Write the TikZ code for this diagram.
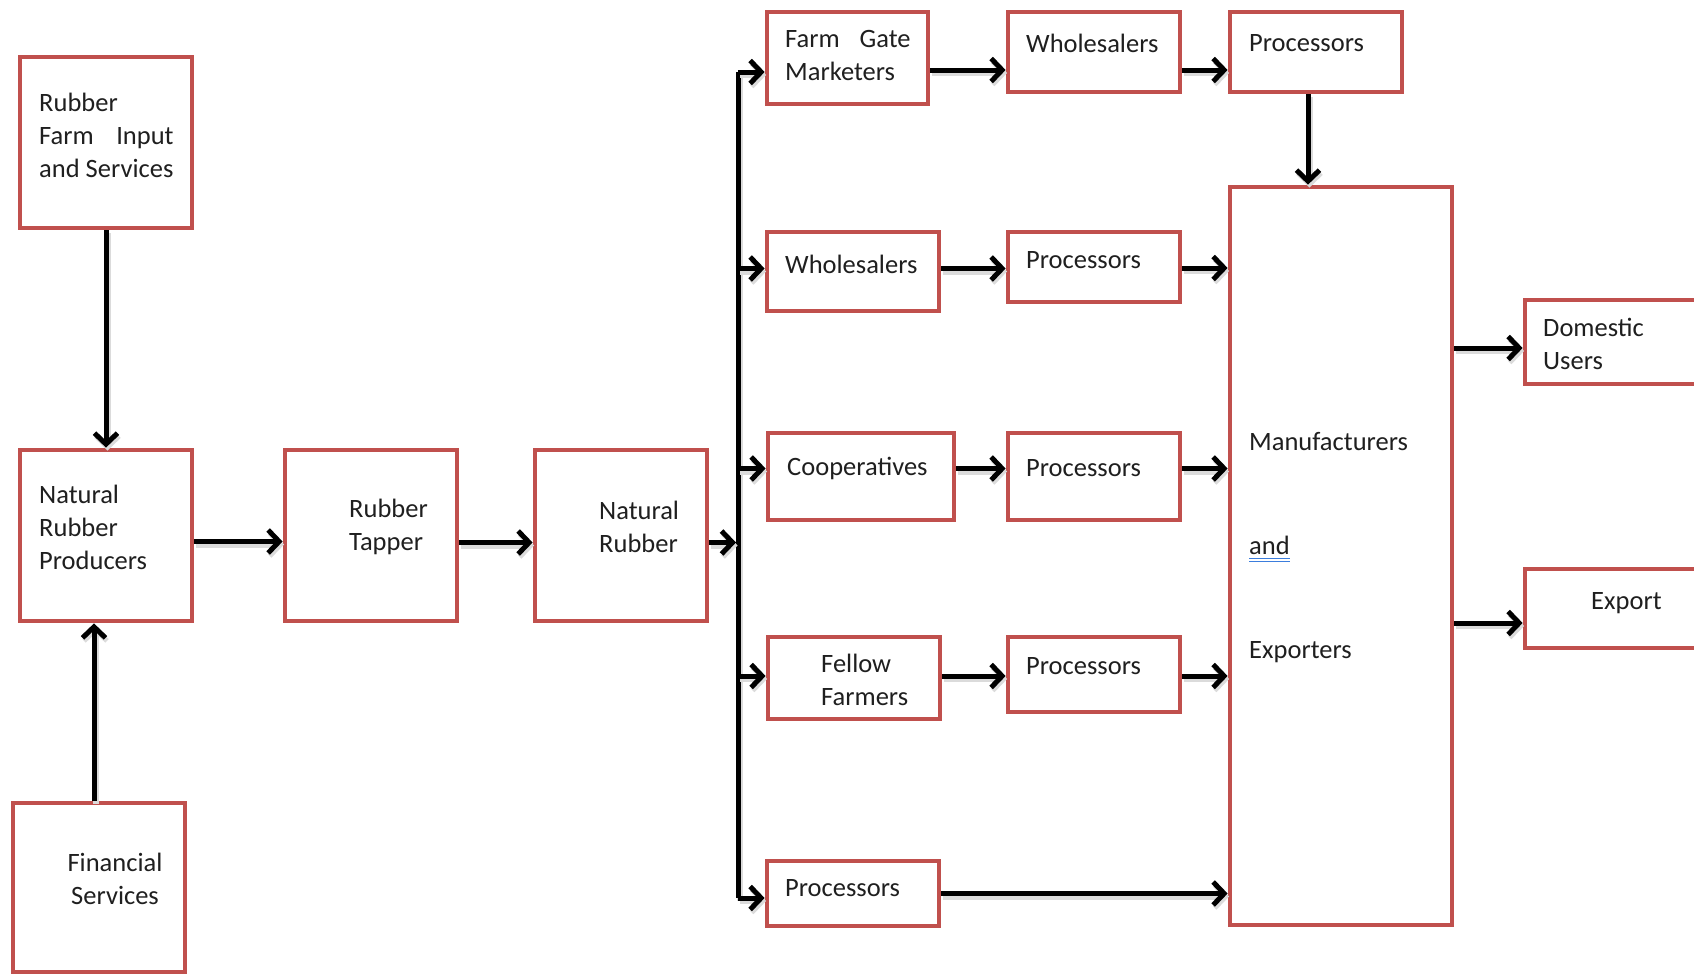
\documentclass[tikz,border=0pt]{standalone}
\usepackage{fontspec}
\setmainfont{Carlito}
\usetikzlibrary{arrows.meta}
\definecolor{boxred}{HTML}{C0504D}
\definecolor{ulblue}{HTML}{3B7DDD}
% word with a blue double underline
\newcommand\blueul[1]{\setbox0=\hbox{#1}%
  \rlap{\color{ulblue}\raisebox{-4pt}{\rule{\wd0}{1.2pt}}}%
  \rlap{\color{ulblue}\raisebox{-7.5pt}{\rule{\wd0}{1.2pt}}}%
  \box0}
\begin{document}
\begin{tikzpicture}[x=1pt,y=-1pt,
  box/.style={draw=boxred, line width=4.8pt, fill=white, inner sep=0pt,
              anchor=north west, xshift=-2.4pt, yshift=2.4pt},
  txt/.style={inner sep=0pt, align=left, anchor=west, text=black!88,
              font=\fontsize{26.5}{33}\selectfont},
  arr/.style={draw=black, line width=5pt,
              -{Straight Barb[length=11pt,width=23pt,line width=5pt]},
              preaction={draw=black!14, line width=6pt,
                         transform canvas={shift={(1.5pt,-3pt)}}}},
  bus/.style={draw=black, line width=5pt,
              preaction={draw=black!14, line width=6pt,
                         transform canvas={shift={(1.5pt,-3pt)}}}}]
\clip (0,0) rectangle (1694,977);
\fill[white] (0,0) rectangle (1694,977);

% ---- distribution bus from Natural Rubber ----
\coordinate (bustop) at (738,72);
\coordinate (busbot) at (738,898);
\draw[bus] (bustop) -- (busbot);

% ---- boxes (top-left corner of the border line, size) ----
\node[box, minimum width=172pt, minimum height=171pt] (A)  at (20,57)   {};
\node[box, minimum width=172pt, minimum height=171pt] (B)  at (20,450)  {};
\node[box, minimum width=172pt, minimum height=171pt] (C)  at (285,450) {};
\node[box, minimum width=172pt, minimum height=171pt] (D)  at (535,450) {};
\node[box, minimum width=172pt, minimum height=169pt] (E)  at (13,803)  {};

\node[box, minimum width=161pt, minimum height=92pt] (FGM) at (767,12)  {};
\node[box, minimum width=172pt, minimum height=80pt] (W1)  at (1008,12) {};
\node[box, minimum width=172pt, minimum height=80pt] (P1)  at (1230,12) {};

\node[box, minimum width=172pt, minimum height=79pt] (W2)  at (767,232)  {};
\node[box, minimum width=172pt, minimum height=70pt] (P2)  at (1008,232) {};

\node[box, minimum width=186pt, minimum height=87pt] (CO)  at (768,433)  {};
\node[box, minimum width=172pt, minimum height=87pt] (P3)  at (1008,433) {};

\node[box, minimum width=172pt, minimum height=82pt] (FF)  at (768,637)  {};
\node[box, minimum width=172pt, minimum height=75pt] (P4)  at (1008,637) {};

\node[box, minimum width=172pt, minimum height=65pt] (P5)  at (767,861)  {};

\node[box, minimum width=222pt, minimum height=738pt] (ME) at (1230,187) {};
\node[box, minimum width=200pt, minimum height=84pt]  (DU) at (1525,300) {};
\node[box, minimum width=200pt, minimum height=79pt]  (EX) at (1525,569) {};

% ---- texts ----
\node[txt] (tA) at (39,135) {Rubber\\Farm\hspace{0.85em}Input\\and Services};
\node[txt] (tB) at (39,527) {Natural\\Rubber\\Producers};
\node[txt] (tC) at (349,527) {Rubber\\Tapper};
\node[txt] (tD) at (599,527) {Natural\\Rubber};
\node[txt, align=center, anchor=center] (tE) at (115,879) {Financial\\Services};

\node[txt] (tFGM) at (785,55) {Farm\hspace{0.75em}Gate\\Marketers};
\node[txt] (tW1) at (1026,43) {Wholesalers};
\node[txt] (tP1) at (1249,43) {Processors};
\node[txt] (tW2) at (785,264) {Wholesalers};
\node[txt] (tP2) at (1026,260) {Processors};
\node[txt] (tCO) at (787,468) {Cooperatives};
\node[txt] (tP3) at (1026,468) {Processors};
\node[txt] (tFF) at (821,680) {Fellow\\Farmers};
\node[txt] (tP4) at (1026,666) {Processors};
\node[txt] (tP5) at (785,888) {Processors};
\node[txt] (tME) at (1249,548) {Manufacturers\\[71pt]\blueul{and}\\[71pt]Exporters};
\node[txt] (tDU) at (1543,344) {Domestic\\Users};
\node[txt] (tEX) at (1591,603) {Export};

% ---- connectors ----
\draw[arr] (A.south) -- (B.north);
\draw[arr] ([xshift=-5pt]E.north) -- ([xshift=-5pt]E.north |- B.south);
\draw[arr] ([yshift=-6pt]B.east) -- ([yshift=-6pt]B.east -| C.west);
\draw[arr] ([yshift=-7pt]C.east) -- ([yshift=-7pt]C.east -| D.west);
\draw[arr] ([yshift=-7pt]D.east) -- ([yshift=-7pt,xshift=-2pt]D.east -| bustop);

\draw[arr] (bustop) -- (bustop -| FGM.west);
\draw[arr] ([yshift=3pt]W2.west -| bustop) -- ([yshift=3pt]W2.west);
\draw[arr] ([yshift=8pt]CO.west -| bustop) -- ([yshift=8pt]CO.west);
\draw[arr] ([yshift=2pt]FF.west -| bustop) -- ([yshift=2pt]FF.west);
\draw[arr] (busbot) -- (busbot -| P5.west);

\draw[arr] ([yshift=-12pt]FGM.east) -- ([yshift=-12pt]FGM.east -| W1.west);
\draw[arr] ([yshift=-18pt]W1.east) -- ([yshift=-18pt]W1.east -| P1.west);
\draw[arr] ([xshift=-8pt]P1.south) -- ([xshift=-8pt]P1.south |- ME.north);

\draw[arr] ([yshift=3pt]W2.east) -- ([yshift=3pt]W2.east -| P2.west);
\draw[arr] ([yshift=-1pt]P2.east) -- ([yshift=-1pt]P2.east -| ME.west);

\draw[arr] ([yshift=8pt]CO.east) -- ([yshift=8pt]CO.east -| P3.west);
\draw[arr] ([yshift=8pt]P3.east) -- ([yshift=8pt]P3.east -| ME.west);

\draw[arr] ([yshift=2pt]FF.east) -- ([yshift=2pt]FF.east -| P4.west);
\draw[arr] ([yshift=-1.5pt]P4.east) -- ([yshift=-1.5pt]P4.east -| ME.west);

\draw[arr] (P5.east) -- (P5.east -| ME.west);

\draw[arr] ([yshift=-6pt]ME.east |- DU.west) -- ([yshift=-6pt]DU.west);
\draw[arr] ([yshift=-14.5pt]ME.east |- EX.west) -- ([yshift=-14.5pt]EX.west);
\end{tikzpicture}
\end{document}
